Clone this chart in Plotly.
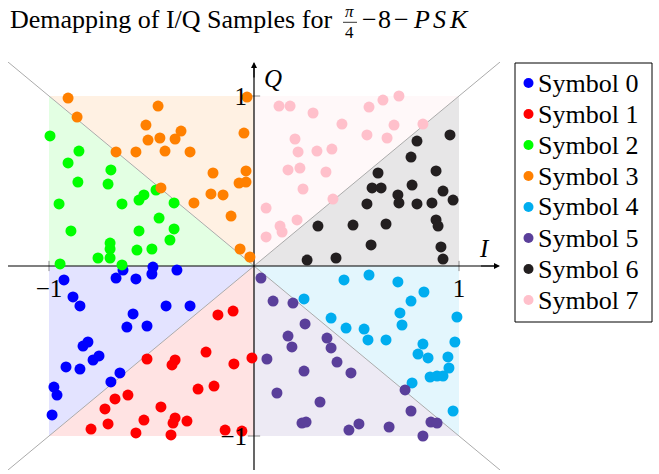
import plotly.graph_objects as go

# ---------------- data ----------------
symbols = ["Symbol 0", "Symbol 1", "Symbol 2", "Symbol 3",
           "Symbol 4", "Symbol 5", "Symbol 6", "Symbol 7"]
colors = ["#0000ff", "#ff0000", "#00ff00", "#ff8000",
          "#00adef", "#5a3f9a", "#231f20", "#ffc0cb"]

s0_i = [-0.927, -0.673, -0.639, -0.576, -0.493, -0.498, -0.883, -0.849, -0.59, -0.429,
        -0.62, -0.522, -0.81, -0.834, -0.756, -0.785, -0.917, -0.849, -0.654, -0.698,
        -0.976, -0.961, -0.985, -0.376, -0.312]
s0_q = [-0.082, -0.071, -0.024, -0.076, -0.006, -0.047, -0.182, -0.235, -0.282, -0.235,
        -0.359, -0.353, -0.447, -0.471, -0.529, -0.553, -0.594, -0.606, -0.629, -0.682,
        -0.712, -0.759, -0.876, -0.024, -0.235]

s1_i = [-0.522, -0.615, -0.678, -0.727, -0.454, -0.537, -0.712, -0.795, -0.576, -0.234,
        -0.385, -0.4, -0.098, -0.01, -0.273, -0.195, -0.385, -0.395, -0.327, -0.405,
        -0.141, -0.059, -0.176, -0.102]
s1_q = [-0.547, -0.759, -0.782, -0.841, -0.829, -0.906, -0.929, -0.959, -0.982, -0.506,
        -0.553, -0.582, -0.576, -0.541, -0.724, -0.706, -0.894, -0.924, -0.912, -0.994,
        -0.965, -0.971, -0.288, -0.265]

s2_i = [-0.995, -0.854, -0.907, -0.698, -0.859, -0.712, -0.537, -0.478, -0.951, -0.644,
        -0.561, -0.463, -0.893, -0.561, -0.702, -0.702, -0.498, -0.571, -0.761, -0.702,
        -0.946, -0.644, -0.39, -0.39, -0.41]
s2_q = [0.765, 0.676, 0.606, 0.565, 0.494, 0.482, 0.418, 0.447, 0.365, 0.365,
        0.388, 0.282, 0.206, 0.206, 0.135, 0.1, 0.1, 0.094, 0.047, 0.047,
        0.012, 0.006, 0.371, 0.218, 0.153]

s3_i = [-0.907, -0.863, -0.468, -0.527, -0.517, -0.459, -0.673, -0.576, -0.434, -0.454,
        -0.034, -0.356, -0.385, -0.312, -0.049, -0.2, -0.039, -0.073, -0.039, -0.21,
        -0.151, -0.293, -0.112, -0.068, -0.02]
s3_q = [0.988, 0.876, 0.941, 0.829, 0.741, 0.753, 0.671, 0.671, 0.676, 0.459,
        0.994, 0.794, 0.747, 0.671, 0.782, 0.547, 0.559, 0.488, 0.494, 0.424,
        0.418, 0.371, 0.294, 0.1, 0.053]

s4_i = [0.244, 0.376, 0.439, 0.561, 0.702, 0.829, 0.766, 0.712, 0.722, 0.449,
        0.537, 0.99, 0.556, 0.644, 0.824, 0.98, 0.8, 0.849, 0.946, 0.951,
        0.859, 0.893, 0.922, 0.771, 0.971]
s4_q = [-0.194, -0.306, -0.082, -0.053, -0.094, -0.153, -0.206, -0.276, -0.347, -0.365,
        -0.371, -0.3, -0.435, -0.435, -0.459, -0.447, -0.518, -0.541, -0.535, -0.6,
        -0.653, -0.647, -0.647, -0.688, -0.853]

s5_i = [0.034, 0.093, 0.19, 0.249, 0.166, 0.356, 0.185, 0.376, 0.063, 0.405,
        0.244, 0.112, 0.322, 0.234, 0.254, 0.473, 0.737, 0.766, 0.512, 0.463,
        0.659, 0.863, 0.893, 0.824]
s5_q = [-0.071, -0.206, -0.218, -0.341, -0.412, -0.424, -0.476, -0.482, -0.547, -0.565,
        -0.618, -0.747, -0.8, -0.924, -0.918, -0.629, -0.729, -0.853, -0.929, -0.965,
        -0.947, -0.918, -0.924, -1.0]

s6_i = [0.956, 0.795, 0.766, 0.605, 0.888, 0.576, 0.62, 0.771, 0.922, 0.702,
        0.707, 0.551, 0.795, 0.868, 0.971, 0.483, 0.644, 0.888, 0.898, 0.571,
        0.912, 0.922, 0.4, 0.312, 0.259]
s6_q = [0.771, 0.735, 0.641, 0.547, 0.559, 0.459, 0.459, 0.476, 0.441, 0.418,
        0.371, 0.365, 0.365, 0.371, 0.388, 0.241, 0.247, 0.271, 0.235, 0.124,
        0.112, 0.041, 0.047, 0.235, 0.035]

s7_i = [0.122, 0.176, 0.288, 0.2, 0.215, 0.307, 0.38, 0.166, 0.224, 0.351,
        0.239, 0.707, 0.629, 0.561, 0.429, 0.683, 0.824, 0.551, 0.649, 0.059,
        0.21, 0.127, 0.137, 0.059, 0.385]
s7_q = [0.941, 0.941, 0.9, 0.747, 0.671, 0.676, 0.688, 0.565, 0.576, 0.553,
        0.453, 1.0, 0.976, 0.935, 0.835, 0.829, 0.835, 0.771, 0.753, 0.341,
        0.271, 0.235, 0.2, 0.171, 0.394]

series_i = [s0_i, s1_i, s2_i, s3_i, s4_i, s5_i, s6_i, s7_i]
series_q = [s0_q, s1_q, s2_q, s3_q, s4_q, s5_q, s6_q, s7_q]

# decision regions: (corner a, corner b) of each triangle with the origin
region_corners = [((-1, 0), (-1, -1)), ((-1, -1), (0, -1)),
                  ((-1, 1), (-1, 0)), ((0, 1), (-1, 1)),
                  ((1, -1), (1, 0)), ((0, -1), (1, -1)),
                  ((1, 0), (1, 1)), ((1, 1), (0, 1))]

tick_vals = [-1, 1]
tick_text = ["\u22121", "1"]
title_text = "Demapping of I/Q Samples for"
title_math = ["\u2212", "8", "\u2212", "<i>P</i>", "<i>S</i>", "<i>K</i>"]

# ---------------- figure ----------------
W, H = 659, 474
ML, MT = 8, 62
PW, PH = 492, 408
MR, MB = W - ML - PW, H - MT - PH
SERIF = "Liberation Serif, Times New Roman, serif"


def px(xp):
    return (xp - ML) / PW


def py(yp):
    return (H - MB - yp) / PH


def rgba(hexc, a):
    h = hexc.lstrip("#")
    r, g, b = int(h[0:2], 16), int(h[2:4], 16), int(h[4:6], 16)
    return f"rgba({r},{g},{b},{a})"


def text_ann(xp, yp, text, size, xanchor="center", yanchor="middle"):
    return dict(x=px(xp), y=py(yp), xref="paper", yref="paper", text=text,
                xanchor=xanchor, yanchor=yanchor, showarrow=False, borderpad=0,
                font=dict(family=SERIF, size=size, color="black"))


fig = go.Figure()
shapes = []
for (a, b), c in zip(region_corners, colors):
    path = f"M 0 0 L {a[0]} {a[1]} L {b[0]} {b[1]} Z"
    shapes.append(dict(type="path", path=path, xref="x", yref="y",
                       fillcolor=rgba(c, 0.11), line=dict(width=0), layer="below"))
# diagonals
shapes.append(dict(type="line", x0=-1.2, y0=1.2, x1=1.2, y1=-1.2, xref="x", yref="y",
                   line=dict(color="#ababab", width=1), layer="below"))
shapes.append(dict(type="line", x0=-1.2, y0=-1.2, x1=1.2, y1=1.2, xref="x", yref="y",
                   line=dict(color="#ababab", width=1), layer="below"))
# tick marks
for v in tick_vals:
    shapes.append(dict(type="line", x0=v, y0=-0.03, x1=v, y1=0.03, xref="x", yref="y",
                       line=dict(color="#888888", width=1), layer="below"))
    shapes.append(dict(type="line", x0=-0.03, y0=v, x1=0.03, y1=v, xref="x", yref="y",
                       line=dict(color="#888888", width=1), layer="below"))
# axes
shapes.append(dict(type="line", x0=-1.2, y0=0, x1=1.19, y1=0, xref="x", yref="y",
                   line=dict(color="black", width=1.2), layer="below"))
shapes.append(dict(type="line", x0=0, y0=-1.2, x1=0, y1=1.19, xref="x", yref="y",
                   line=dict(color="black", width=1.2), layer="below"))

for name, xi, yq, c in zip(symbols, series_i, series_q, colors):
    fig.add_trace(go.Scatter(x=xi, y=yq, mode="markers", name=name,
                             marker=dict(color=c, size=11, line=dict(width=0)),
                             showlegend=False, cliponaxis=False))

annotations = []
# arrowheads
annotations.append(dict(x=1.2, y=0, ax=1.1, ay=0, xref="x", yref="y", axref="x", ayref="y",
                        showarrow=True, arrowhead=2, arrowsize=1, arrowwidth=1.2,
                        arrowcolor="black", text=""))
annotations.append(dict(x=0, y=1.2, ax=0, ay=1.1, xref="x", yref="y", axref="x", ayref="y",
                        showarrow=True, arrowhead=2, arrowsize=1, arrowwidth=1.2,
                        arrowcolor="black", text=""))
# axis names
annotations.append(text_ann(484, 248, "<i>I</i>", 25))
annotations.append(text_ann(273, 79, "<i>Q</i>", 25))
# title
annotations.append(text_ann(9, 20, title_text, 26, xanchor="left"))
annotations.append(text_ann(349.5, 22.3, "<i>π</i>", 17, yanchor="bottom"))
annotations.append(text_ann(349.5, 22.3, "4", 17, yanchor="top"))
shapes.append(dict(type="line", xref="paper", yref="paper", x0=px(343), x1=px(357),
                   y0=py(22.3), y1=py(22.3), line=dict(color="black", width=0.8)))
for t, xc in zip(title_math, [369, 384, 401, 421, 439, 459]):
    annotations.append(text_ann(xc, 20, t, 26))

# legend (drawn manually)
shapes.append(dict(type="rect", xref="paper", yref="paper", x0=px(515), x1=px(652),
                   y0=py(63), y1=py(322), line=dict(color="black", width=1),
                   fillcolor="white"))
for k, (name, c) in enumerate(zip(symbols, colors)):
    yc = 83 + k * 31
    shapes.append(dict(type="circle", xref="paper", yref="paper",
                       x0=px(523.5), x1=px(533.5), y0=py(yc + 5), y1=py(yc - 5),
                       fillcolor=c, line=dict(width=0)))
    annotations.append(text_ann(537, yc, name, 26, xanchor="left"))

fig.update_layout(
    width=W, height=H,
    margin=dict(l=ML, r=MR, t=MT, b=MB, pad=0),
    paper_bgcolor="white", plot_bgcolor="white",
    shapes=shapes, annotations=annotations,
    showlegend=False,
    xaxis=dict(range=[-1.2, 1.2], showgrid=False, zeroline=False, showline=False,
               tickvals=tick_vals, ticktext=tick_text, ticks="",
               anchor="free", position=0.5, ticklabelstandoff=5,
               tickfont=dict(family=SERIF, size=25, color="black"), fixedrange=True),
    yaxis=dict(range=[-1.2, 1.2], showgrid=False, zeroline=False, showline=False,
               tickvals=tick_vals, ticktext=tick_text, ticks="",
               anchor="free", position=0.5, ticklabelstandoff=7,
               tickfont=dict(family=SERIF, size=25, color="black"), fixedrange=True),
)

fig.write_html("out.html",
               config={"displayModeBar": False},
               post_script="document.body.style.margin='0';"
                           "document.body.style.overflow='hidden';")
